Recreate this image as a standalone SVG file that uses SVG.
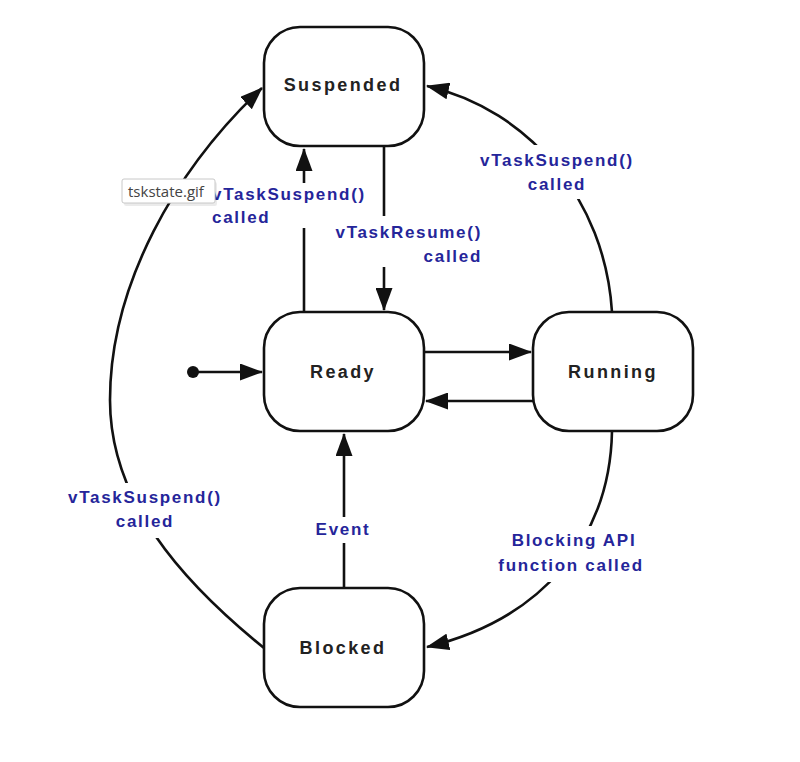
<svg xmlns="http://www.w3.org/2000/svg" width="800" height="762" viewBox="0 0 800 762">
<defs>
<style>
.node rect{fill:#fff;stroke:#111;stroke-width:2.6}
.node text{font-family:"Liberation Sans",Arial,sans-serif;font-weight:bold;font-size:18px;letter-spacing:2.4px;fill:#222;text-anchor:middle}
.conn{fill:none;stroke:#111;stroke-width:2.6}
.lbl text{font-family:"Liberation Sans",Arial,sans-serif;font-weight:bold;font-size:17px;letter-spacing:1.7px;fill:#25259a}
.lbl rect{fill:#fff}
</style>
<marker id="ah" viewBox="0 0 23 17" refX="22" refY="8.5" markerWidth="23" markerHeight="17" markerUnits="userSpaceOnUse" orient="auto">
<path d="M0,0 L23,8.5 L0,17 z" fill="#111"/>
</marker>
</defs>
<rect width="800" height="762" fill="#fff"/>
<g id="connectors">
<circle cx="193" cy="372" r="6" fill="#111"/>
<path class="conn" d="M193,372 H262" marker-end="url(#ah)"/>
<path class="conn" d="M424,352 H531" marker-end="url(#ah)"/>
<path class="conn" d="M533,401 H426" marker-end="url(#ah)"/>
<path class="conn" d="M304,312 V149" marker-end="url(#ah)"/>
<path class="conn" d="M384,146 V310" marker-end="url(#ah)"/>
<path class="conn" d="M344,588 V434" marker-end="url(#ah)"/>
<path class="conn" d="M612,312 C605,200 530,110 427,86" marker-end="url(#ah)"/>
<path class="conn" d="M264,648 C180,580 110,500 110,400 C110,285 175,170 262,88" marker-end="url(#ah)"/>
<path class="conn" d="M612,431 C610,540 540,620 427,647" marker-end="url(#ah)"/>
</g>
<g id="labels" class="lbl">
<g id="lbl-ready-suspended"><rect x="205" y="183" width="168" height="45"/><text x="212" y="200">vTaskSuspend()</text><text x="212" y="223">called</text></g>
<g id="lbl-suspended-ready"><rect x="326" y="216" width="160" height="51"/><text x="482" y="238" text-anchor="end">vTaskResume()</text><text x="482" y="262" text-anchor="end">called</text></g>
<g id="lbl-running-suspended"><rect x="474" y="145" width="166" height="54"/><text x="557" y="166" text-anchor="middle">vTaskSuspend()</text><text x="557" y="190" text-anchor="middle">called</text></g>
<g id="lbl-blocked-suspended"><rect x="62" y="483" width="168" height="55"/><text x="145" y="503" text-anchor="middle">vTaskSuspend()</text><text x="145" y="527" text-anchor="middle">called</text></g>
<g id="lbl-event"><rect x="310" y="517" width="66" height="26"/><text x="343" y="535" text-anchor="middle">Event</text></g>
<g id="lbl-running-blocked"><rect x="495" y="526" width="154" height="56"/><text x="574" y="546" text-anchor="middle">Blocking API</text><text x="571" y="571" text-anchor="middle">function called</text></g>
</g>
<g id="suspended" class="node"><rect x="264" y="27" width="160" height="119" rx="36"/><text x="343" y="91">Suspended</text></g>
<g id="ready" class="node"><rect x="264" y="312" width="160" height="119" rx="36"/><text x="343" y="378">Ready</text></g>
<g id="running" class="node"><rect x="533" y="312" width="160" height="119" rx="36"/><text x="613" y="378">Running</text></g>
<g id="blocked" class="node"><rect x="264" y="588" width="160" height="119" rx="36"/><text x="343" y="654">Blocked</text></g>
<g id="tooltip">
<rect x="124" y="182" width="93" height="24" rx="2" fill="#000" opacity="0.08"/>
<rect x="122" y="179" width="93" height="24" rx="2" fill="#fff" stroke="#c8c8c8" stroke-width="1"/>
<text x="128" y="197" font-family="'Open Sans','Noto Sans',sans-serif" font-size="15" fill="#444">tskstate.gif</text>
</g>
</svg>
